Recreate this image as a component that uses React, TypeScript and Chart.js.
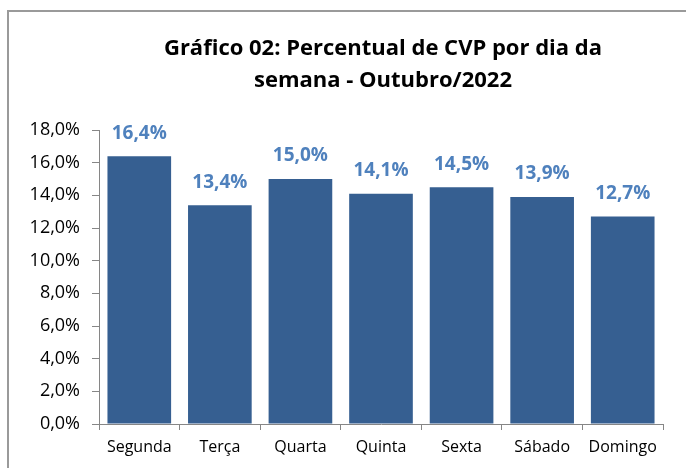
import React, { useEffect, useRef } from "react";
import { Chart, registerables } from "chart.js";

Chart.register(...registerables);

const categories = ["Segunda", "Terça", "Quarta", "Quinta", "Sexta", "Sábado", "Domingo"];
const values = [16.4, 13.4, 15.0, 14.1, 14.5, 13.9, 12.7];
const titleLines = ["Gráfico 02: Percentual de CVP por dia da", "semana - Outubro/2022"];
const yMax = 18;
const yStep = 2;

const FONT = "'Open Sans', Lato, sans-serif";

const fmt = (v: number) => v.toFixed(1).replace(".", ",") + "%";

const titlePlugin = {
  id: "customTitle",
  afterDraw(chart: any) {
    const ctx = chart.ctx;
    ctx.save();
    ctx.fillStyle = "#000000";
    ctx.font = `bold 22px ${FONT}`;
    ctx.textAlign = "center";
    ctx.textBaseline = "middle";
    ctx.fillText(titleLines[0], 383, 49);
    ctx.fillText(titleLines[1], 383, 81);
    ctx.restore();
  },
};

const labelPlugin = {
  id: "barLabels",
  afterDatasetsDraw(chart: any) {
    const ctx = chart.ctx;
    const meta = chart.getDatasetMeta(0);
    ctx.save();
    ctx.fillStyle = "#4F81BD";
    ctx.font = `bold 19px ${FONT}`;
    ctx.textAlign = "center";
    ctx.textBaseline = "middle";
    meta.data.forEach((el: any, i: number) => {
      ctx.fillText(fmt(values[i]), el.x, el.y - 23);
    });
    ctx.restore();
  },
};

export default function App() {
  const ref = useRef<HTMLCanvasElement | null>(null);
  useEffect(() => {
    if (!ref.current) return;
    const chart = new Chart(ref.current, {
      type: "bar",
      data: {
        labels: categories,
        datasets: [
          {
            data: values,
            backgroundColor: "#365F91",
            borderWidth: 0,
            categoryPercentage: 1,
            barPercentage: 0.79,
          },
        ],
      },
      options: {
        responsive: false,
        animation: false,
        layout: { padding: { top: 130, right: 23, bottom: 0, left: 0 } },
        plugins: {
          legend: { display: false },
          title: { display: false },
          tooltip: { enabled: false },
        },
        scales: {
          x: {
            offset: true,
            grid: {
              display: true,
              drawOnChartArea: false,
              drawTicks: true,
              tickLength: 6,
              color: "#868686",
              offset: true,
            },
            border: { display: true, color: "#868686", width: 1 },
            ticks: {
              color: "#000000",
              font: { family: FONT, size: 16 },
              padding: 8,
              maxRotation: 0,
              autoSkip: false,
            },
            afterFit(scale: any) {
              scale.height = 44;
            },
          },
          y: {
            min: 0,
            max: yMax,
            grid: {
              display: true,
              drawOnChartArea: false,
              drawTicks: true,
              tickLength: 7,
              color: "#868686",
            },
            border: { display: true, color: "#868686", width: 1 },
            ticks: {
              stepSize: yStep,
              color: "#000000",
              font: { family: FONT, size: 18 },
              padding: 12,
              callback: (v: any) => fmt(Number(v)),
            },
            afterFit(scale: any) {
              scale.width = 99;
            },
          },
        },
      },
      plugins: [titlePlugin, labelPlugin],
    });
    return () => chart.destroy();
  }, []);

  return (
    <div style={{ position: "fixed", left: 0, top: 0, width: 686, height: 468, overflow: "hidden", background: "#fff" }}>
      <div
        style={{
          position: "absolute",
          left: 7,
          top: 10,
          width: 700,
          height: 480,
          border: "2px solid #9a9a9a",
          boxSizing: "border-box",
        }}
      />
      <canvas ref={ref} width={686} height={468} style={{ position: "absolute", left: 0, top: 0, width: 686, height: 468 }} />
    </div>
  );
}
